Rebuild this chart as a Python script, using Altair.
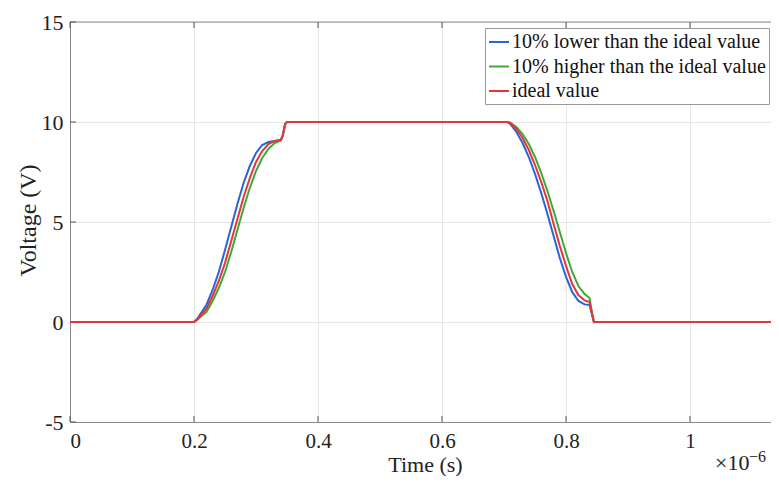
import altair as alt
import pandas as pd

# ---- data (time in units of 1e-6 s, voltage in V) ----
t_lower = [0, 0.2, 0.205, 0.21, 0.22, 0.23, 0.24, 0.25, 0.26, 0.27, 0.28, 0.29, 0.30, 0.31, 0.32, 0.33, 0.34, 0.343, 0.347, 0.35,
           0.705, 0.71, 0.72, 0.73, 0.74, 0.75, 0.76, 0.77, 0.78, 0.79, 0.80, 0.81, 0.82, 0.83, 0.838, 0.842, 0.845, 1.143]
v_lower = [0, 0, 0.15, 0.38, 0.85, 1.6, 2.5, 3.6, 4.75, 5.9, 6.95, 7.8, 8.45, 8.85, 9.0, 9.05, 9.1, 9.3, 9.9, 10,
           10, 9.9, 9.5, 8.95, 8.25, 7.4, 6.45, 5.4, 4.3, 3.2, 2.25, 1.5, 1.05, 0.88, 0.85, 0.35, 0, 0]

t_higher = [0, 0.2, 0.205, 0.21, 0.22, 0.23, 0.24, 0.25, 0.26, 0.27, 0.28, 0.29, 0.30, 0.31, 0.32, 0.33, 0.34, 0.343, 0.347, 0.35,
            0.705, 0.71, 0.72, 0.73, 0.74, 0.75, 0.76, 0.77, 0.78, 0.79, 0.80, 0.81, 0.82, 0.83, 0.838, 0.842, 0.845, 1.143]
v_higher = [0, 0, 0.1, 0.25, 0.5, 1.05, 1.7, 2.5, 3.5, 4.6, 5.7, 6.7, 7.55, 8.2, 8.65, 8.95, 9.08, 9.3, 9.9, 10,
            10, 9.97, 9.75, 9.4, 8.9, 8.25, 7.45, 6.55, 5.55, 4.5, 3.45, 2.5, 1.8, 1.4, 1.2, 0.45, 0, 0]

t_ideal = [0, 0.2, 0.205, 0.21, 0.22, 0.23, 0.24, 0.25, 0.26, 0.27, 0.28, 0.29, 0.30, 0.31, 0.32, 0.33, 0.34, 0.343, 0.347, 0.35,
           0.705, 0.71, 0.72, 0.73, 0.74, 0.75, 0.76, 0.77, 0.78, 0.79, 0.80, 0.81, 0.82, 0.83, 0.838, 0.842, 0.845, 1.143]
v_ideal = [0, 0, 0.12, 0.3, 0.65, 1.3, 2.05, 2.95, 4.05, 5.15, 6.25, 7.2, 8.0, 8.55, 8.9, 9.05, 9.1, 9.3, 9.9, 10,
           10, 9.95, 9.65, 9.2, 8.6, 7.85, 7.0, 6.05, 4.9, 3.8, 2.8, 1.9, 1.35, 1.08, 1.0, 0.4, 0, 0]

series_names = ["10% lower than the ideal value", "10% higher than the ideal value", "ideal value"]
series_colors = ["#2266D8", "#3DAA36", "#E8333A"]

x_ticks = [0, 0.2, 0.4, 0.6, 0.8, 1]
y_ticks = [-5, 0, 5, 10, 15]

X_MAX = 1.1306
Y_MIN, Y_MAX = -5, 15

rows = []
for name, ts, vs in zip(series_names, [t_lower, t_higher, t_ideal], [v_lower, v_higher, v_ideal]):
    for t, v in zip(ts, vs):
        rows.append({"series": name, "t": t, "v": v})
df = pd.DataFrame(rows)

FONT = "Liberation Serif"
W, H = 701, 400
AX = "#8A8A8A"

xscale = alt.Scale(domain=[0, X_MAX], nice=False, zero=False)
yscale = alt.Scale(domain=[Y_MIN, Y_MAX], nice=False)
color_scale = alt.Scale(domain=series_names, range=series_colors)

x_axis = alt.Axis(values=x_ticks, format="~g", title="Time (s)", grid=True, gridColor="#E6E6E6",
                  ticks=False, domainColor=AX, labelFont=FONT, labelFontSize=21,
                  labelColor="#222222", labelPadding=8.5, titleFont=FONT, titleFontSize=22,
                  titleFontWeight="normal", titleColor="#222222",
                  titleX=355, titleY=49.5, titleAlign="center", titleBaseline="alphabetic")
y_axis = alt.Axis(values=y_ticks, labelExpr="'' + datum.value", title="Voltage (V)", grid=True,
                  gridColor="#E6E6E6", ticks=False, domainColor=AX, labelFont=FONT,
                  labelFontSize=22, labelColor="#222222", labelPadding=7, titleFont=FONT,
                  titleFontSize=24, titleFontWeight="normal", titleColor="#222222",
                  titleX=-42, titleY=198, titleAngle=270, titleAlign="center", titleBaseline="middle")

legend = alt.Legend(title=None, orient="none", legendX=415, legendY=6, symbolType="stroke",
                    symbolSize=400, symbolStrokeWidth=2, labelFont=FONT, labelFontSize=20,
                    labelColor="#111111", labelOffset=2, rowPadding=3.5, padding=3,
                    strokeColor="#9A9A9A", fillColor="white", labelLimit=400)

X = alt.X("t:Q", scale=xscale, axis=x_axis)
Y = alt.Y("v:Q", scale=yscale, axis=y_axis)

lines = []
for name in series_names:
    lines.append(
        alt.Chart(df).transform_filter(alt.datum.series == name)
        .mark_line(strokeWidth=2, clip=True)
        .encode(x=X, y=Y, color=alt.Color("series:N", scale=color_scale, legend=legend))
    )

# inside tick marks (MATLAB style) and top border of the box
tick_x_df = pd.DataFrame({"t": x_ticks, "v": [Y_MIN] * len(x_ticks), "v2": [Y_MIN + 0.3] * len(x_ticks),
                          "vt": [Y_MAX] * len(x_ticks), "vt2": [Y_MAX - 0.3] * len(x_ticks)})
tick_y_df = pd.DataFrame({"v": y_ticks, "t": [0] * len(y_ticks), "t2": [0.0097] * len(y_ticks)})
border_df = pd.DataFrame({"t": [0], "t2": [X_MAX], "v": [Y_MAX]})

ticks_bottom = alt.Chart(tick_x_df).mark_rule(color="#555555", strokeWidth=1).encode(
    x=X, y=Y, y2="v2:Q")
ticks_top = alt.Chart(tick_x_df).mark_rule(color="#555555", strokeWidth=1).encode(
    x=X, y=alt.Y("vt:Q", scale=yscale, axis=y_axis), y2="vt2:Q")
ticks_left = alt.Chart(tick_y_df).mark_rule(color="#555555", strokeWidth=1).encode(
    y=Y, x=X, x2="t2:Q")
top_border = alt.Chart(border_df).mark_rule(color=AX, strokeWidth=1).encode(
    x=X, x2="t2:Q", y=Y)

exp_base = alt.Chart(pd.DataFrame({"a": [0]})).mark_text(
    font=FONT, fontSize=22, color="#222222", align="left", baseline="alphabetic", text="\u00d710"
).encode(x=alt.value(645), y=alt.value(448))
exp_sup = alt.Chart(pd.DataFrame({"a": [0]})).mark_text(
    font=FONT, fontSize=16, color="#222222", align="left", baseline="alphabetic", text="\u22126"
).encode(x=alt.value(679), y=alt.value(440))

chart = alt.layer(
    top_border, ticks_bottom, ticks_top, ticks_left, *lines, exp_base, exp_sup
).properties(
    width=W, height=H,
    autosize=alt.AutoSizeParams(type="none"),
    padding={"left": 62, "top": 14, "right": 0, "bottom": 54},
).configure_view(strokeOpacity=0).configure(background="white")

chart.save("out.html", embed_options={"renderer": "svg", "actions": False})
